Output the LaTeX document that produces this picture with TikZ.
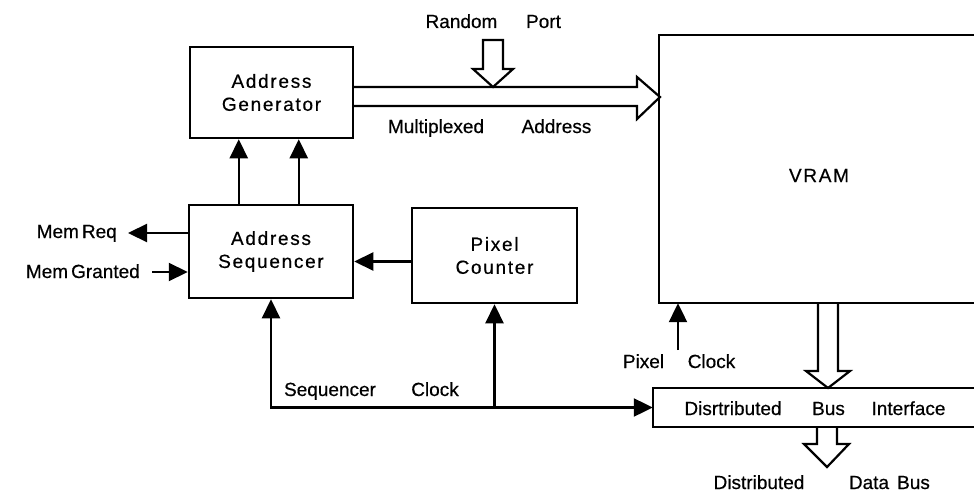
\documentclass[tikz,border=0pt]{standalone}
\usepackage{fontspec}
\setmainfont{Liberation Sans}[FakeBold=0.5]
\newfontfamily\boxfont[LetterSpace=9,FakeBold=0.5]{Liberation Sans}
\usetikzlibrary{arrows.meta,calc}
\begin{document}
\begin{tikzpicture}[x=1pt,y=-1pt,
  box/.style={draw, line width=2.5pt, inner sep=0pt, font=\boxfont\fontsize{19}{23}\selectfont, align=center},
  lbl/.style={anchor=base, inner sep=0pt, font=\fontsize{19}{23}\selectfont},
  arr/.style={line width=2.2pt, -{Triangle[length=19pt 0 0,width=18pt 0 0]}},
  bus/.style={line width=2.2pt, fill=white, line join=miter},
  frame/.style={line width=2.5pt}]
\useasboundingbox (0,0) rectangle (974,492);

% boxes
\node[box, minimum width=163pt, minimum height=91pt] (ag) at (271.5,92.5) {Address\\Generator};
\node[box, minimum width=164pt, minimum height=93pt] (seq) at (271,251.5) {Address\\Sequencer};
\node[box, minimum width=165pt, minimum height=95pt] (pc) at (494.5,255.5) {Pixel\\Counter};
\node[inner sep=0pt, minimum width=315pt, minimum height=268pt] (vram) at (816.5,169) {};
\draw[frame] (vram.north east) -- (vram.north west) -- (vram.south west) -- (vram.south east);
\node[lbl, font=\boxfont\fontsize{19}{23}\selectfont] (vramlbl) at (819,182) {VRAM};
\node[inner sep=0pt, minimum width=321pt, minimum height=39pt] (bi) at (813.5,407.5) {};
\draw[frame] (bi.north east) -- (bi.north west) -- (bi.south west) -- (bi.south east);

% buses (hollow arrows)
\draw[bus] (354,87) -- (637,87) -- (637,77) -- (660,97) -- (637,119) -- (637,106) -- (354,106);
\draw[bus] (483,40) -- (503,40) -- (503,69) -- (513,69) -- (493,87) -- (473,69) -- (483,69) -- cycle;
\draw[bus] (818,304) -- (818,371) -- (806,371) -- (828,388) -- (850,371) -- (838,371) -- (838,304);
\draw[bus] (817,428) -- (817,444) -- (804,444) -- (827,467) -- (849,444) -- (837,444) -- (837,428);

% labels
\node[lbl] (rnd) at (461.5,28) {Random};
\node[lbl] (port) at (543.5,28) {Port};
\node[lbl] (mux) at (436,133) {Multiplexed};
\node[lbl] (muxa) at (556.5,133) {Address};
\node[lbl, anchor=base east] (memreq) at (117,238) {Mem\kern3pt Req};
\node[lbl, anchor=base east] (memgr) at (140,278) {Mem\kern3pt Granted};
\node[lbl] (seqclk) at (330,396) {Sequencer};
\node[lbl] (seqclk2) at (435,396) {Clock};
\node[lbl] (pix) at (643.5,368) {Pixel};
\node[lbl] (pix2) at (711.5,368) {Clock};
\node[lbl] (bi1) at (733,415) {Disrtributed};
\node[lbl] (bi2) at (828.5,415) {Bus};
\node[lbl] (bi3) at (908.5,415) {Interface};
\node[lbl] (db1) at (759,489) {Distributed};
\node[lbl] (db2) at (869,489) {Data};
\node[lbl] (db3) at (913.5,489) {Bus};

% connectors
\draw[arr] ([xshift=51pt]seq.north west) -- ([xshift=51pt]seq.north west |- ag.south);
\draw[arr] ([xshift=111pt]seq.north west) -- ([xshift=111pt]seq.north west |- ag.south);
\draw[arr] ([yshift=-6pt]pc.west) -- ([yshift=-6pt]pc.west -| seq.east);
\coordinate (mrq) at (128,233);
\draw[arr] (seq.west |- mrq) -- (mrq);
\coordinate (mgr) at (152,272);
\draw[arr] (mgr) -- (mgr -| seq.west);
\coordinate (j) at (pc.south |- bi.west);
\draw[arr] (j) -- (bi.west);
\draw[arr] (j) -- (pc.south);
\draw[arr] (j) -| (seq.south);
\coordinate (pclk) at (678,350);
\draw[arr] (pclk) -- (pclk |- vram.south);
\end{tikzpicture}
\end{document}
